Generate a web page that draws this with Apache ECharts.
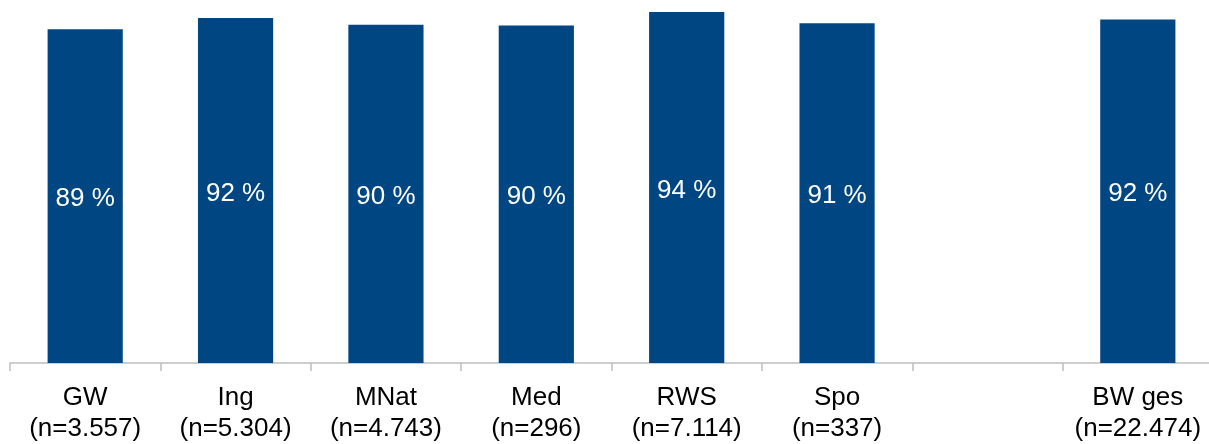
<!DOCTYPE html>
<html>
<head>
<meta charset="utf-8">
<script src="https://cdn.jsdelivr.net/npm/echarts@6/dist/echarts.min.js"></script>
<style>
html,body{margin:0;padding:0;background:#fff;overflow:hidden;}
#chart{width:1213px;height:444px;}
</style>
</head>
<body>
<div id="chart"></div>
<script>
const categories = ['GW\n(n=3.557)', 'Ing\n(n=5.304)', 'MNat\n(n=4.743)', 'Med\n(n=296)', 'RWS\n(n=7.114)', 'Spo\n(n=337)', '', 'BW ges\n(n=22.474)'];
const values = [89.0, 92.0, 90.2, 90.0, 93.6, 90.6, null, 91.6];

const chart = echarts.init(document.getElementById('chart'));
chart.setOption({
  animation: false,
  grid: { left: 10, right: 0, top: 0, bottom: 80, containLabel: false },
  xAxis: {
    type: 'category',
    data: categories,
    axisLine: { lineStyle: { color: '#bfbfbf', width: 1.5 } },
    axisTick: { show: true, length: 8, lineStyle: { color: '#bfbfbf', width: 1.5 } },
    axisLabel: {
      interval: 0,
      color: '#000',
      fontFamily: 'Liberation Sans, Arial, sans-serif',
      fontSize: 26,
      lineHeight: 31,
      margin: 19
    }
  },
  yAxis: {
    type: 'value', min: 0, max: 96.8,
    show: false,
    splitLine: { show: false }
  },
  series: [{
    type: 'bar',
    data: values,
    barWidth: '50%',
    itemStyle: { color: '#004682' },
    label: {
      show: true,
      position: 'inside',
      offset: [0, 3],
      color: '#fff',
      fontFamily: 'Liberation Sans, Arial, sans-serif',
      fontSize: 26,
      formatter: p => Math.round(p.value) + ' %'
    }
  }]
});
</script>
</body>
</html>
